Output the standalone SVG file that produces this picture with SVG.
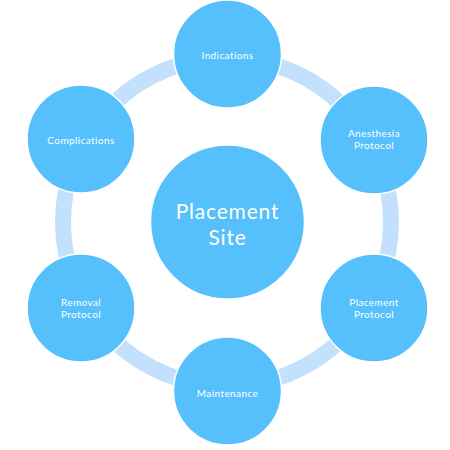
<svg xmlns="http://www.w3.org/2000/svg" width="450" height="450" viewBox="0 0 450 450">
<style>
.node{fill:#55c0fb;stroke:#ffffff;stroke-width:1.5}
.lbl{fill:#ffffff;font-family:Lato,"Liberation Sans",sans-serif;font-size:10px;letter-spacing:0.4px;text-anchor:middle;dominant-baseline:central}
.big{font-size:21px;letter-spacing:0.8px}
.ring{fill:none;stroke:#c3e0fc;stroke-width:16}
</style>
<rect width="450" height="450" fill="#ffffff"/>
<g id="connectors">
<circle class="ring" cx="227" cy="222" r="164"/>
</g>
<g id="center">
<circle class="node" cx="227.5" cy="222" r="77"/>
<text class="lbl big" x="227.5" y="210">Placement</text>
<text class="lbl big" x="227.5" y="236">Site</text>
</g>
<g id="indications">
<circle class="node" cx="227.5" cy="54" r="54"/>
<text class="lbl" x="227.5" y="55">Indications</text>
</g>
<g id="anesthesia">
<circle class="node" cx="374" cy="140" r="54"/>
<text class="lbl" x="374" y="133">Anesthesia</text>
<text class="lbl" x="374" y="145">Protocol</text>
</g>
<g id="placement-protocol">
<circle class="node" cx="374" cy="308" r="54"/>
<text class="lbl" x="374" y="302">Placement</text>
<text class="lbl" x="374" y="314">Protocol</text>
</g>
<g id="maintenance">
<circle class="node" cx="227.5" cy="391" r="54"/>
<text class="lbl" x="227.5" y="393">Maintenance</text>
</g>
<g id="removal">
<circle class="node" cx="81" cy="308" r="54"/>
<text class="lbl" x="81" y="302">Removal</text>
<text class="lbl" x="81" y="314">Protocol</text>
</g>
<g id="complications">
<circle class="node" cx="81" cy="139" r="54"/>
<text class="lbl" x="81" y="140">Complications</text>
</g>
</svg>
